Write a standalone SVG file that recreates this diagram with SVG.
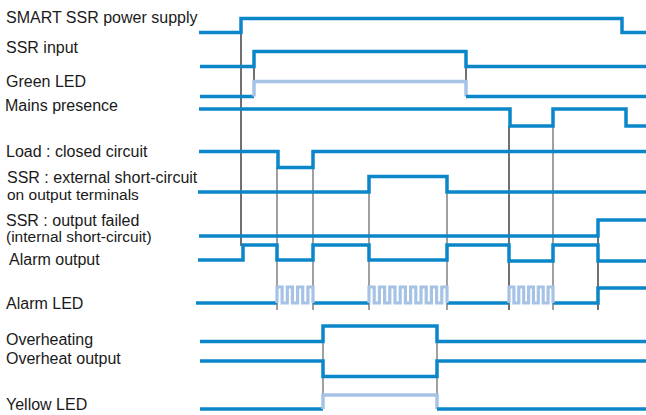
<svg xmlns="http://www.w3.org/2000/svg" width="646" height="415" viewBox="0 0 646 415">
<style>
text{font-family:"Liberation Sans",Arial,sans-serif;font-size:16px;fill:#1a1a1a}
.t{font-size:15.5px}
.s{fill:none;stroke:#0a86c9;stroke-width:3.5;stroke-linejoin:miter;stroke-linecap:butt}
.l{fill:none;stroke:#a6c3e6;stroke-width:3.5;stroke-linejoin:miter;stroke-linecap:butt}
.w{fill:none;stroke:#a6c3e6;stroke-width:3.2;stroke-linejoin:miter;stroke-linecap:butt}
.k{stroke:#111;stroke-width:1.2}
.g{stroke:#777;stroke-width:1.4}
</style>
<rect width="646" height="415" fill="#fff"/>
<g id="connectors">
<line class="k" x1="241" y1="32" x2="241" y2="246"/>
<line class="k" x1="254" y1="66" x2="254" y2="82"/>
<line class="k" x1="466" y1="66" x2="466" y2="82"/>
<line class="g" x1="277" y1="167" x2="277" y2="310"/>
<line class="g" x1="313" y1="167" x2="313" y2="310"/>
<line class="g" x1="369" y1="192" x2="369" y2="310"/>
<line class="g" x1="447" y1="192" x2="447" y2="310"/>
<line class="k" x1="509" y1="126" x2="509" y2="310"/>
<line class="g" x1="553" y1="126" x2="553" y2="310"/>
<line class="k" x1="598" y1="236" x2="598" y2="310"/>
<line class="g" x1="323" y1="342" x2="323" y2="395"/>
<line class="g" x1="437" y1="342" x2="437" y2="395"/>
</g>
<g id="power">
<text x="6" y="23">SMART SSR power supply</text>
<path class="s" d="M199,32.5 H241 V18.5 H622 V32.5 H646"/>
</g>
<g id="ssr-input">
<text x="6" y="52.5">SSR input</text>
<path class="s" d="M200,66.5 H254 V51.5 H466 V66.5 H646"/>
</g>
<g id="green-led">
<text x="6" y="87">Green LED</text>
<path class="s" d="M200,96.5 H254"/>
<path class="l" d="M254,96.5 V81.5 H466 V96.5"/>
<path class="s" d="M466,96.5 H646"/>
</g>
<g id="mains">
<text x="5" y="110.5">Mains presence</text>
<path class="s" d="M199,109 H510 V126 H553 V109 H626 V126 H646"/>
</g>
<g id="load">
<text x="6" y="157">Load : closed circuit</text>
<path class="s" d="M199,151.5 H278 V167.5 H313 V151.5 H646"/>
</g>
<g id="ext-short">
<text x="7" y="182.5">SSR : external short-circuit</text>
<text class="t" x="7" y="199.5">on output terminals</text>
<path class="s" d="M198,192 H369 V176.5 H447 V192 H646"/>
</g>
<g id="output-failed">
<text x="6" y="225.5">SSR : output failed</text>
<text class="t" x="6" y="242">(internal short-circuit)</text>
<path class="s" d="M199,236 H598 V220 H646"/>
</g>
<g id="alarm-output">
<text x="9" y="264.5">Alarm output</text>
<path class="s" d="M198,260 H243 V245 H277 V260 H313 V245 H369 V260 H447 V245 H509 V261 H553 V245 H598 V261 H646"/>
</g>
<g id="alarm-led">
<text x="6" y="309">Alarm LED</text>
<path class="s" d="M196,303 H277 M313,303 H369 M447,303 H509 M553,303 H598 V288 H646"/>
<path class="w" d="M277,303 V287 H282.1 V303 H287.3 V287 H292.4 V303 H297.6 V287 H302.7 V303 H307.9 V287 H313 V303"/>
<path class="w" d="M369,303 V287 H374.2 V303 H379.4 V287 H384.6 V303 H389.8 V287 H395 V303 H400.2 V287 H405.4 V303 H410.6 V287 H415.8 V303 H421 V287 H426.2 V303 H431.4 V287 H436.6 V303 H441.8 V287 H447 V303"/>
<path class="w" d="M509,303 V287 H513.9 V303 H518.8 V287 H523.7 V303 H528.6 V287 H533.4 V303 H538.3 V287 H543.2 V303 H548.1 V287 H553 V303"/>
</g>
<g id="overheating">
<text x="6" y="345">Overheating</text>
<path class="s" d="M200,341.5 H323 V326 H437 V341.5 H646"/>
</g>
<g id="overheat-output">
<text x="6" y="364">Overheat output</text>
<path class="s" d="M200,361 H323 V376.5 H437 V361 H646"/>
</g>
<g id="yellow-led">
<text x="6" y="410">Yellow LED</text>
<path class="s" d="M200,409 H323"/>
<path class="l" d="M323,409 V395 H437 V409"/>
<path class="s" d="M437,409 H646"/>
</g>
</svg>
